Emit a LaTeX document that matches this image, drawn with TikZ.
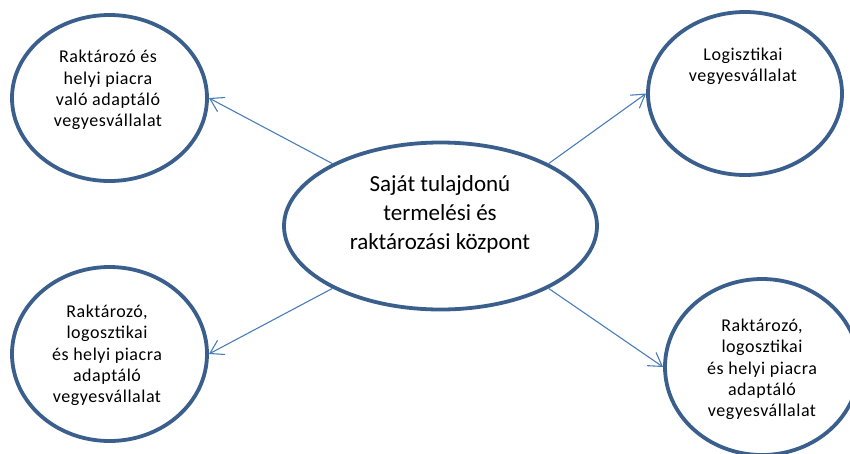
\documentclass[tikz,border=0pt]{standalone}
\usepackage{fontspec}
\setmainfont{Carlito}
\usetikzlibrary{arrows.meta,shapes.geometric}
\definecolor{ringblue}{HTML}{3B5F8D}
\definecolor{linkblue}{HTML}{4A7EBB}
\tikzset{
  ring/.style={draw=ringblue, line width=3.8pt, ellipse, inner sep=0pt},
  smalltext/.style={align=center, font=\fontsize{18}{21.3}\selectfont\addfontfeatures{LetterSpace=3}, text=black, inner sep=0pt},
  bigtext/.style={align=center, font=\fontsize{23}{29}\selectfont, text=black, inner sep=0pt},
  link/.style={draw=linkblue, line width=1.1pt, -{Straight Barb[length=13pt,width=16pt,line width=1.1pt]}},
}
\begin{document}
\begin{tikzpicture}[x=1pt, y=-1pt]
  \useasboundingbox (0,0) rectangle (850,453);
  \fill[white] (0,0) rectangle (850,453);

  % rings
  \node[ring, minimum width=313pt, minimum height=167pt] (hub) at (440.5,226) {};
  \node[ring, minimum width=195pt, minimum height=166pt] (tl) at (109.5,98) {};
  \node[ring, minimum width=194pt, minimum height=163pt] (tr) at (745,93.5) {};
  \node[ring, minimum width=195pt, minimum height=174pt] (bl) at (109.5,354) {};
  \node[ring, minimum width=194pt, minimum height=176pt] (br) at (762,367) {};

  % labels
  \node[bigtext] (hubtext) at (440,214) {Saját tulajdonú\\termelési és\\raktározási központ};
  \node[smalltext] (tltext) at (108,90) {Raktározó és\\helyi piacra\\való adaptáló\\vegyesvállalat};
  \node[smalltext] (trtext) at (743,66) {Logisztikai\\vegyesvállalat};
  \node[smalltext] (bltext) at (107,355.5) {Raktározó,\\logosztikai\\és helyi piacra\\adaptáló\\vegyesvállalat};
  \node[smalltext] (brtext) at (762,369.5) {Raktározó,\\logosztikai\\és helyi piacra\\adaptáló\\vegyesvállalat};

  % links from the hub
  \draw[link] (hub.150) -- (tl.east);
  \draw[link] (hub.30) -- (tr.west);
  \draw[link] (hub.210) -- (bl.east);
  \draw[link] (hub.330) -- (br.west);
\end{tikzpicture}
\end{document}
